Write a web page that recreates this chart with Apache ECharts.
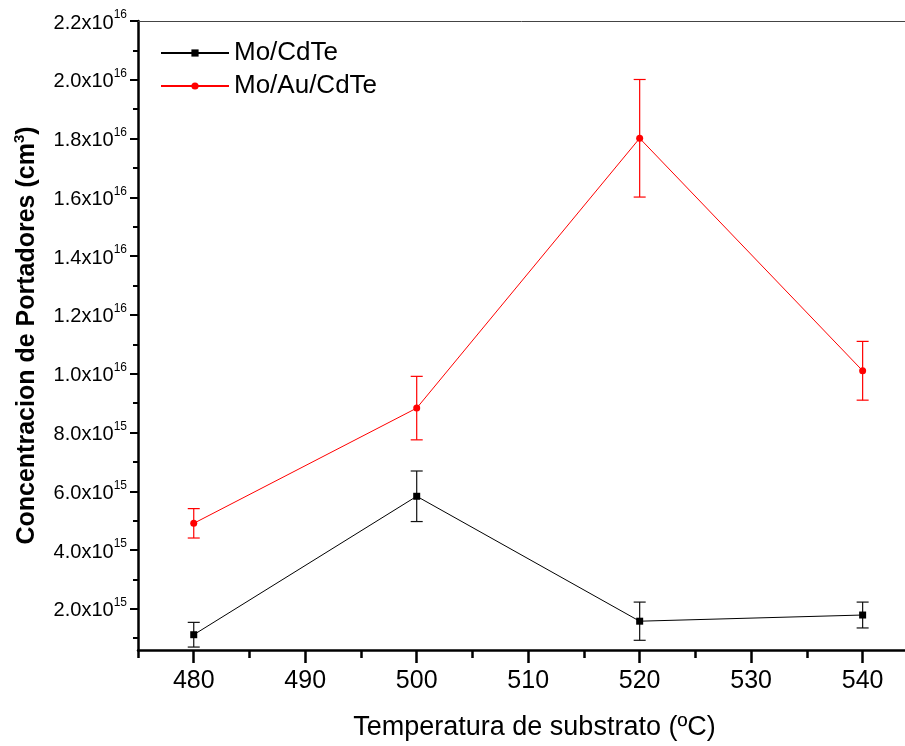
<!DOCTYPE html>
<html>
<head>
<meta charset="utf-8">
<script src="https://cdn.jsdelivr.net/npm/echarts@6/dist/echarts.min.js"></script>
<style>
html,body{margin:0;padding:0;background:#fff;}
#chart{width:905px;height:746px;}
</style>
</head>
<body>
<div id="chart"></div>
<script>
// ---- data ----
const temperatures = [480, 500, 520, 540];
const moCdTe = [1.12e15, 5.83e15, 1.58e15, 1.79e15];
const moCdTeErr = [0.42e15, 0.86e15, 0.65e15, 0.44e15];
const moAuCdTe = [4.91e15, 8.83e15, 1.801e16, 1.01e16];
const moAuCdTeErr = [0.5e15, 1.08e15, 2.0e15, 1.0e15];
const seriesNames = ['Mo/CdTe', 'Mo/Au/CdTe'];
const xMajorTicks = [480, 490, 500, 510, 520, 530, 540];
const xMinorTicks = [475, 485, 495, 505, 515, 525, 535];
const yMajorTicks = [2e15, 4e15, 6e15, 8e15, 1e16, 1.2e16, 1.4e16, 1.6e16, 1.8e16, 2.0e16, 2.2e16];
const yMinorTicks = [1e15, 3e15, 5e15, 7e15, 9e15, 1.1e16, 1.3e16, 1.5e16, 1.7e16, 1.9e16, 2.1e16];
const xTitle = 'Temperatura de substrato (ºC)';
const yTitleMain = 'Concentracion de Portadores (cm';
const yTitleSup = '3';

const FONT = '"Liberation Sans", Arial, sans-serif';
const X_MIN = 475, X_MAX = 543.8, Y_MIN = 0.6e15, Y_MAX = 2.2e16;

function sciLabel(v) {
  const exp = Math.floor(Math.log10(v) + 1e-9);
  const mant = (v / Math.pow(10, exp)).toFixed(1);
  return '{m|' + mant + 'x10}{e|' + exp + '}';
}

function errData(xs, vals, errs) {
  return xs.map((x, i) => [x, vals[i] - errs[i], vals[i] + errs[i]]);
}

function errRender(color) {
  return function (params, api) {
    const x = api.value(0);
    const lo = api.coord([x, api.value(1)]);
    const hi = api.coord([x, api.value(2)]);
    const w = 6;
    const st = { stroke: color, lineWidth: 1.2 };
    return {
      type: 'group',
      children: [
        { type: 'line', shape: { x1: hi[0], y1: hi[1], x2: lo[0], y2: lo[1] }, style: st },
        { type: 'line', shape: { x1: hi[0] - w, y1: hi[1], x2: hi[0] + w, y2: hi[1] }, style: st },
        { type: 'line', shape: { x1: lo[0] - w, y1: lo[1], x2: lo[0] + w, y2: lo[1] }, style: st }
      ]
    };
  };
}

const chart = echarts.init(document.getElementById('chart'), null, { renderer: 'canvas' });

const option = {
  backgroundColor: '#fff',
  animation: false,
  textStyle: { fontFamily: FONT },
  grid: { left: 138, right: 0, top: 21, bottom: 95, containLabel: false },
  legend: {
    data: seriesNames,
    orient: 'vertical',
    left: 155,
    top: 35,
    itemWidth: 68,
    itemHeight: 9,
    itemGap: 7,
    textStyle: { fontFamily: FONT, fontSize: 26, color: '#000' }
  },
  xAxis: [
    {
      type: 'value', min: X_MIN, max: X_MAX, position: 'bottom',
      name: xTitle, nameLocation: 'middle', nameGap: 64,
      nameTextStyle: { fontFamily: FONT, fontSize: 27, color: '#000', padding: [0, 0, 0, 26] },
      axisLine: { show: true, onZero: false, lineStyle: { color: '#000', width: 2.5 } },
      axisTick: { show: true, length: 13, customValues: xMajorTicks, lineStyle: { color: '#000', width: 2.5 } },
      axisLabel: { show: true, customValues: xMajorTicks, margin: 19, fontFamily: FONT, fontSize: 25, color: '#000' },
      splitLine: { show: false }
    },
    {
      type: 'value', min: X_MIN, max: X_MAX, position: 'bottom',
      axisLine: { show: false, onZero: false },
      axisTick: { show: true, length: 8, customValues: xMinorTicks, lineStyle: { color: '#000', width: 2.5 } },
      axisLabel: { show: false },
      splitLine: { show: false }
    },
    {
      type: 'value', min: X_MIN, max: X_MAX, position: 'top',
      axisLine: { show: true, onZero: false, lineStyle: { color: '#444', width: 1 } },
      axisTick: { show: false },
      axisLabel: { show: false },
      splitLine: { show: false }
    }
  ],
  yAxis: [
    {
      type: 'value', min: Y_MIN, max: Y_MAX, position: 'left',
      name: '{t|' + yTitleMain + '}{s|' + yTitleSup + '}{t|)}',
      nameLocation: 'middle', nameRotate: 90, nameGap: 96,
      nameTextStyle: {
        rich: {
          t: { fontFamily: FONT, fontSize: 25, fontWeight: 'bold', color: '#000', lineHeight: 30 },
          s: { fontFamily: FONT, fontSize: 15, fontWeight: 'bold', color: '#000', verticalAlign: 'top', lineHeight: 30 }
        }
      },
      axisLine: { show: true, onZero: false, lineStyle: { color: '#000', width: 2.5 } },
      axisTick: { show: true, length: 8, customValues: yMajorTicks, lineStyle: { color: '#000', width: 2 } },
      axisLabel: {
        show: true, customValues: yMajorTicks, margin: 11,
        formatter: sciLabel,
        rich: {
          m: { fontFamily: FONT, fontSize: 20, color: '#000', lineHeight: 24, verticalAlign: 'bottom' },
          e: { fontFamily: FONT, fontSize: 12, color: '#000', lineHeight: 24, verticalAlign: 'top' }
        }
      },
      splitLine: { show: false }
    },
    {
      type: 'value', min: Y_MIN, max: Y_MAX, position: 'left',
      axisLine: { show: false, onZero: false },
      axisTick: { show: true, length: 5, customValues: yMinorTicks, lineStyle: { color: '#000', width: 2 } },
      axisLabel: { show: false },
      splitLine: { show: false }
    }
  ],
  series: [
    {
      type: 'custom', name: 'errA', xAxisIndex: 0, yAxisIndex: 0,
      renderItem: errRender('#111'),
      data: errData(temperatures, moCdTe, moCdTeErr),
      encode: { x: 0, y: [1, 2] }, z: 1, silent: true
    },
    {
      type: 'custom', name: 'errB', xAxisIndex: 0, yAxisIndex: 0,
      renderItem: errRender('#ff0000'),
      data: errData(temperatures, moAuCdTe, moAuCdTeErr),
      encode: { x: 0, y: [1, 2] }, z: 1, silent: true
    },
    {
      type: 'line', name: seriesNames[0], xAxisIndex: 0, yAxisIndex: 0,
      data: temperatures.map((x, i) => [x, moCdTe[i]]),
      symbol: 'rect', symbolSize: 7,
      lineStyle: { color: '#000', width: 1 },
      itemStyle: { color: '#000' },
      z: 3
    },
    {
      type: 'line', name: seriesNames[1], xAxisIndex: 0, yAxisIndex: 0,
      data: temperatures.map((x, i) => [x, moAuCdTe[i]]),
      symbol: 'circle', symbolSize: 7,
      lineStyle: { color: '#ff0000', width: 1 },
      itemStyle: { color: '#ff0000' },
      z: 3
    }
  ]
};
chart.setOption(option);
</script>
</body>
</html>
